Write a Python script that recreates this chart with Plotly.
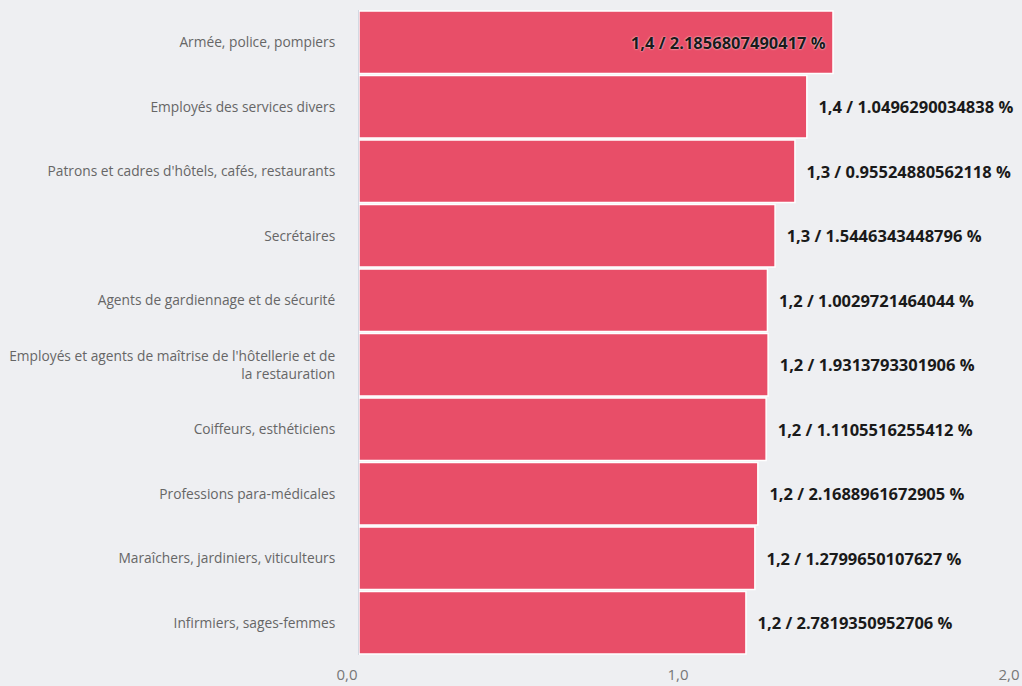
import plotly.graph_objects as go

categories = [
    "Armée, police, pompiers",
    "Employés des services divers",
    "Patrons et cadres d'hôtels, cafés, restaurants",
    "Secrétaires",
    "Agents de gardiennage et de sécurité",
    "Employés et agents de maîtrise de l'hôtellerie et de<br>la restauration",
    "Coiffeurs, esthéticiens",
    "Professions para-médicales",
    "Maraîchers, jardiniers, viticulteurs",
    "Infirmiers, sages-femmes",
]
values = [1.432, 1.353, 1.317, 1.257, 1.234, 1.236, 1.230, 1.205, 1.196, 1.169]
rounded_labels = ["1,4", "1,4", "1,3", "1,3", "1,2", "1,2", "1,2", "1,2", "1,2", "1,2"]
percent_labels = [
    "2.1856807490417", "1.0496290034838", "0.95524880562118", "1.5446343448796",
    "1.0029721464044", "1.9313793301906", "1.1105516255412", "2.1688961672905",
    "1.2799650107627", "2.7819350952706",
]
x_ticks = [0, 1, 2]
x_tick_labels = ["0,0", "1,0", "2,0"]

texts = []
positions = []
for i, (r, p) in enumerate(zip(rounded_labels, percent_labels)):
    if i == 0:
        texts.append(f"{r} / {p} %\u00a0")
        positions.append("inside")
    else:
        texts.append("\u00a0\u00a0" + f"{r} / {p} %")
        positions.append("outside")

fig = go.Figure(
    go.Bar(
        x=values,
        y=categories,
        orientation="h",
        marker=dict(color="#E84E68", line=dict(color="#FFFFFF", width=1.5)),
        text=texts,
        textposition=positions,
        insidetextanchor="end",
        textangle=0,
        cliponaxis=False,
        insidetextfont=dict(family="Open Sans", size=16.5, color="#1a1a1a", weight="bold",
                            shadow="0px 0px 2px #ffffff"),
        outsidetextfont=dict(family="Open Sans", size=16.5, color="#1a1a1a", weight="bold"),
        hoverinfo="skip",
    )
)

fig.update_layout(
    width=1022,
    height=686,
    margin=dict(l=359, r=1, t=10, b=31),
    paper_bgcolor="#EEEFF2",
    plot_bgcolor="#EEEFF2",
    bargap=0.03,
    separators=",.",
    showlegend=False,
    font=dict(family="Open Sans", color="#666666"),
)
fig.update_xaxes(
    range=[0, 2],
    tickvals=x_ticks,
    ticktext=x_tick_labels,
    showgrid=False,
    zeroline=False,
    showline=False,
    ticks="",
    tickfont=dict(size=15, color="#777777"),
    ticklabelshift=-12,
    ticklabelstandoff=9,
    automargin=False,
    fixedrange=True,
)
fig.update_yaxes(
    autorange="reversed",
    showgrid=False,
    zeroline=False,
    showline=True,
    linecolor="#D3D8E2",
    linewidth=1,
    ticks="",
    tickfont=dict(size=13.75, color="#666666"),
    ticklabelstandoff=20,
    automargin=False,
    fixedrange=True,
)

fig.write_html(
    "out.html",
    config={"displayModeBar": False, "staticPlot": True},
    post_script="document.body.style.margin='0';document.body.style.overflow='hidden';",
)
